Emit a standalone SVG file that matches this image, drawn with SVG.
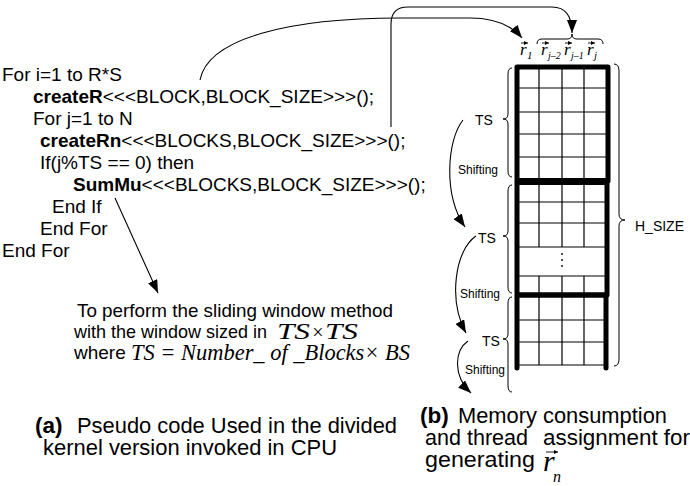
<svg xmlns="http://www.w3.org/2000/svg" width="690" height="486" viewBox="0 0 690 486">
<defs>
<style>
.code{font-family:"Liberation Sans",Arial,sans-serif;font-size:19px;fill:#000}
.b{font-weight:bold}
.cap{font-family:"Liberation Sans",Arial,sans-serif;font-size:22.5px;fill:#000}
.lbl{font-family:"Liberation Sans",Arial,sans-serif;font-size:14px;fill:#000}
.sm{font-family:"Liberation Sans",Arial,sans-serif;font-size:12px;fill:#000}
.m{font-family:"Liberation Serif","Times New Roman",serif;font-style:italic;fill:#000}
.thin{fill:none;stroke:#000;stroke-width:1}
.grid{fill:none;stroke:#000;stroke-width:1.2}
.thick{fill:none;stroke:#000;stroke-width:5;stroke-linecap:round}
.con{fill:none;stroke:#000;stroke-width:1.1}
.vec{fill:none;stroke:#000;stroke-width:0.9}
</style>
<marker id="ah" markerUnits="userSpaceOnUse" markerWidth="14" markerHeight="10" refX="13" refY="5" orient="auto">
<path d="M0,0 L13,5 L0,10 z" fill="#000"/>
</marker>
<marker id="va" markerUnits="userSpaceOnUse" markerWidth="5" markerHeight="5" refX="4" refY="2" orient="auto">
<path d="M0,0 L4,2 L0,4 z" fill="#000"/>
</marker>
</defs>
<rect width="690" height="486" fill="#fff"/>

<g id="pseudocode">
<text class="code" x="2" y="81">For i=1 to R*S</text>
<text class="code" x="33" y="103"><tspan class="b">createR</tspan>&lt;&lt;&lt;BLOCK,BLOCK_SIZE&gt;&gt;&gt;();</text>
<text class="code" x="33" y="125">For j=1 to N</text>
<text class="code" x="40" y="147"><tspan class="b">createRn</tspan>&lt;&lt;&lt;BLOCKS,BLOCK_SIZE&gt;&gt;&gt;();</text>
<text class="code" x="40" y="169">If(j%TS == 0) then</text>
<text class="code" x="73" y="191"><tspan class="b">SumMu</tspan>&lt;&lt;&lt;BLOCKS,BLOCK_SIZE&gt;&gt;&gt;();</text>
<text class="code" x="52" y="213">End If</text>
<text class="code" x="40" y="235">End For</text>
<text class="code" x="2" y="257">End For</text>
</g>

<g id="note">
<text class="code" x="77" y="317" font-size="18.7" textLength="316" lengthAdjust="spacingAndGlyphs">To perform the sliding window method</text>
<text class="code" x="74" y="338" font-size="18.5" textLength="193" lengthAdjust="spacingAndGlyphs">with the window sized in</text>
<text class="m" x="277" y="339" font-size="24" textLength="33" lengthAdjust="spacingAndGlyphs">TS</text>
<text class="m" x="311" y="339" font-size="20" font-style="normal">×</text>
<text class="m" x="325" y="339" font-size="24" textLength="33" lengthAdjust="spacingAndGlyphs">TS</text>
<text class="code" x="74" y="359" font-size="18.5">where</text>
<text class="m" x="131" y="360" font-size="23" textLength="279" lengthAdjust="spacingAndGlyphs">TS = Number_ of _Blocks× BS</text>
</g>

<g id="caption-a">
<text class="cap b" x="35" y="433" font-size="24">(a)</text>
<text class="cap" x="77" y="433" font-size="24" textLength="320" lengthAdjust="spacingAndGlyphs">Pseudo code Used in the divided</text>
<text class="cap" x="43" y="455" font-size="21.5" textLength="294" lengthAdjust="spacingAndGlyphs">kernel version invoked in CPU</text>
</g>

<g id="caption-b">
<text class="cap b" x="420" y="423" font-size="23">(b)</text>
<text class="cap" x="458" y="423" font-size="23" textLength="209" lengthAdjust="spacingAndGlyphs">Memory consumption</text>
<text class="cap" x="425" y="445" textLength="103" lengthAdjust="spacingAndGlyphs">and thread</text>
<text class="cap" x="543" y="445" textLength="147" lengthAdjust="spacingAndGlyphs">assignment for</text>
<text class="cap" x="425" y="467" textLength="110" lengthAdjust="spacingAndGlyphs">generating</text>
<text class="m" x="543" y="471" font-size="30">r</text>
<text class="m" x="553" y="482" font-size="16">n</text>
<path class="vec" d="M546,452 H558" marker-end="url(#va)"/>
</g>

<g id="memory-grid">
<g class="grid">
<path d="M517,88 H608 M517,112 H608 M517,134 H608 M517,157 H608"/>
<path d="M517,202 H608 M517,223 H608 M517,247 H608 M517,276 H608"/>
<path d="M517,320 H607 M517,342 H607 M517,365 H607"/>
<path d="M539,67 V247 M562,67 V247 M584,67 V247"/>
<path d="M539,276 V365 M562,276 V365 M584,276 V365"/>
</g>
<path class="thick" d="M517,67 H608 M517,67 V368 M608,67 V181 M607,181 V295 M606,295 V368" />
<path d="M516,181.5 H609" stroke="#000" stroke-width="7" fill="none"/>
<path d="M516,295 H608" stroke="#000" stroke-width="5.5" fill="none"/>
<g fill="#000">
<circle cx="562" cy="254" r="0.9"/>
<circle cx="562" cy="260" r="0.9"/>
<circle cx="562" cy="266" r="0.9"/>
</g>
</g>

<g id="column-labels">
<text class="m" x="520" y="55" font-size="17">r</text>
<text class="m" x="527" y="59" font-size="11">1</text>
<path class="vec" d="M521,43 H528" marker-end="url(#va)"/>
<text class="m" x="541" y="55" font-size="17">r</text>
<text class="m" x="548" y="59" font-size="10">j–2</text>
<path class="vec" d="M542,43 H549" marker-end="url(#va)"/>
<text class="m" x="564" y="55" font-size="17">r</text>
<text class="m" x="571" y="59" font-size="10">j–1</text>
<path class="vec" d="M565,43 H572" marker-end="url(#va)"/>
<text class="m" x="587" y="55" font-size="17">r</text>
<text class="m" x="594" y="59" font-size="11">j</text>
<path class="vec" d="M588,43 H595" marker-end="url(#va)"/>
<path class="thin" d="M537,44 Q537,39 542,39 L567,39 Q572,39 572,34 Q572,39 577,39 L598,39 Q603,39 603,44"/>
</g>

<g id="braces">
<path class="thin" d="M512,68 Q508,68 508,74 L508,114 Q508,119 503,119 Q508,119 508,124 L508,171 Q508,177 512,177"/>
<path class="thin" d="M512,185 Q508,185 508,191 L508,231 Q508,236 503,236 Q508,236 508,241 L508,287 Q508,293 512,293"/>
<path class="thin" d="M512,297 Q508,297 508,303 L508,334 Q508,339 503,339 Q508,339 508,344 L508,386 Q508,392 512,392"/>
<path class="thin" d="M614,64 Q619,64 619,71 L619,214 Q619,220 625,220 Q619,220 619,226 L619,359 Q619,366 614,366"/>
</g>

<g id="labels">
<text class="lbl" x="475" y="125">TS</text>
<text class="lbl" x="478" y="243">TS</text>
<text class="lbl" x="482" y="346">TS</text>
<text class="lbl" x="635" y="231" font-size="15">H_SIZE</text>
<text class="sm" x="458" y="174">Shifting</text>
<text class="sm" x="460" y="298">Shifting</text>
<text class="sm" x="465" y="374">Shifting</text>
</g>

<g id="connectors">
<path class="con" d="M200,80 C208,38 290,18 400,18 L470,18 C495,18 512,26 522,38" marker-end="url(#ah)"/>
<path class="con" d="M391,127 L391,24 Q391,7 408,7 L552,7 Q572,7 572,33" marker-end="url(#ah)"/>
<path class="con" d="M115,198 L158,293" marker-end="url(#ah)"/>
<path class="con" d="M463,120 C447,140 443,195 465,227" marker-end="url(#ah)"/>
<path class="con" d="M476,236 C455,250 448,300 466,333" marker-end="url(#ah)"/>
<path class="con" d="M468,341 C455,350 452,375 471,393" marker-end="url(#ah)"/>
</g>
</svg>
